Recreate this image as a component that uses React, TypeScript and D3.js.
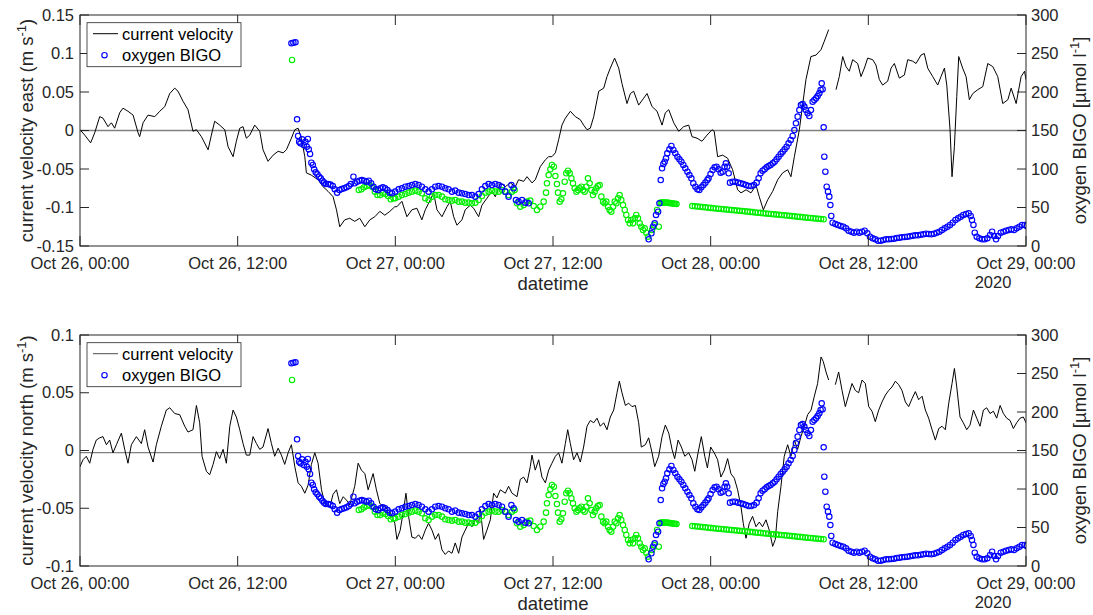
import React from 'react';
import * as d3 from 'd3';

// time is in hours after Oct 26 2020, 00:00 (UTC); NaN marks a gap in the record
const START = Date.UTC(2020, 9, 26);
const toDate = (h: number) => new Date(START + h * 3600e3);

const eastVelocity: [number, number][] = [
  [0, 0.001], [0.36, -0.006], [0.81, -0.016], [1.12, -0.003], [1.5, 0.018], [1.75, 0.016], [2.13, 0.005], [2.39, 0.01],
  [2.64, 0.003], [3.02, 0.023], [3.27, 0.029], [3.65, 0.025], [4.04, 0.02], [4.42, -0.003], [4.54, -0.008], [4.8, 0.01],
  [5.18, 0.02], [5.69, 0.018], [6.07, 0.025], [6.45, 0.031], [6.83, 0.048], [7.21, 0.055], [7.46, 0.051], [7.84, 0.038],
  [8.22, 0.027], [8.6, -0.001], [8.86, 0.001], [9.24, -0.008], [9.75, -0.025], [10.0, -0.006], [10.25, 0.012], [10.63, 0.007],
  [11.02, 0.001], [11.27, -0.021], [11.65, -0.034], [11.9, -0.014], [12.16, 0.003], [12.41, 0.005], [12.66, -0.01], [12.92, -0.006],
  [13.3, 0.007], [13.68, -0.001], [13.93, -0.025], [14.31, -0.04], [14.7, -0.032], [15.08, -0.027], [15.46, -0.029], [15.71, -0.025],
  [16.09, -0.01], [16.35, 0.001], [16.6, 0.003], [16.85, -0.01], [17.11, -0.034], [17.23, -0.055], [17.61, -0.058], [18.12, -0.064],
  [18.5, -0.073], [18.88, -0.079], [19.26, -0.086], [19.52, -0.103], [19.77, -0.125], [20.15, -0.116], [20.53, -0.114], [20.91, -0.118],
  [21.29, -0.114], [21.68, -0.125], [22.06, -0.116], [22.44, -0.112], [22.82, -0.105], [23.2, -0.11], [23.58, -0.105], [23.96, -0.099],
  [24.12, -0.099], [24.5, -0.092], [24.88, -0.112], [25.26, -0.103], [25.64, -0.101], [26.02, -0.116], [26.28, -0.103], [26.66, -0.09],
  [26.91, -0.081], [27.17, -0.103], [27.55, -0.112], [27.93, -0.099], [28.18, -0.092], [28.44, -0.112], [28.69, -0.123], [29.07, -0.116],
  [29.32, -0.103], [29.7, -0.097], [29.96, -0.101], [30.34, -0.112], [30.59, -0.097], [30.97, -0.088], [31.35, -0.079], [31.61, -0.086],
  [31.99, -0.068], [32.37, -0.073], [32.75, -0.068], [33.13, -0.073], [33.38, -0.064], [33.77, -0.066], [34.02, -0.06], [34.4, -0.068],
  [34.65, -0.064], [35.03, -0.047], [35.42, -0.038], [35.67, -0.034], [35.92, -0.034], [36.18, -0.029], [36.43, -0.012], [36.68, 0.007],
  [36.94, 0.016], [37.32, 0.025], [37.7, 0.018], [38.08, 0.014], [38.33, 0.007], [38.59, 0.001], [38.84, 0.003], [39.1, 0.018],
  [39.48, 0.051], [39.86, 0.055], [40.11, 0.07], [40.36, 0.081], [40.69, 0.094], [41.0, 0.081], [41.25, 0.061], [41.63, 0.035],
  [41.89, 0.048], [42.14, 0.051], [42.52, 0.033], [42.9, 0.042], [43.16, 0.048], [43.54, 0.031], [43.92, 0.025], [44.3, 0.007],
  [44.55, 0.023], [44.81, 0.027], [45.19, 0.01], [45.57, -0.001], [45.95, 0.005], [46.33, 0.007], [46.58, -0.008], [46.96, -0.01],
  [47.34, -0.014], [47.72, -0.006], [48.11, 0.001], [48.27, -0.001], [48.53, -0.034], [48.91, -0.032], [49.29, -0.036], [49.67, -0.051],
  [50.05, -0.077], [50.31, -0.081], [50.69, -0.077], [51.07, -0.081], [51.45, -0.071], [51.7, -0.086], [52.01, -0.103], [52.34, -0.09],
  [52.72, -0.079], [53.1, -0.064], [53.48, -0.055], [53.86, -0.051], [54.11, -0.06], [54.37, -0.034], [54.75, 0.001], [55.25, 0.066],
  [55.63, 0.096], [56.02, 0.098], [56.4, 0.105], [56.65, 0.116], [56.98, 0.131], [57.2, NaN], [57.54, 0.053], [57.79, 0.07],
  [58.05, 0.096], [58.3, 0.083], [58.55, 0.077], [58.81, 0.092], [59.19, 0.087], [59.44, 0.07], [59.7, 0.081], [59.95, 0.094],
  [60.33, 0.092], [60.58, 0.085], [60.84, 0.066], [61.09, 0.059], [61.47, 0.064], [61.73, 0.081], [61.98, 0.087], [62.36, 0.068],
  [62.74, 0.072], [63.0, 0.092], [63.38, 0.09], [63.63, 0.087], [64.01, 0.098], [64.26, 0.1], [64.52, 0.081], [64.9, 0.07],
  [65.28, 0.059], [65.53, 0.07], [65.79, 0.081], [65.97, 0.059], [66.22, 0.001], [66.37, -0.06], [66.55, -0.021], [66.73, 0.044],
  [66.88, 0.096], [67.18, 0.081], [67.44, 0.07], [67.69, 0.04], [67.95, 0.048], [68.33, 0.053], [68.71, 0.057], [69.09, 0.087],
  [69.47, 0.083], [69.85, 0.07], [70.23, 0.035], [70.62, 0.04], [70.87, 0.055], [71.25, 0.035], [71.63, 0.07], [71.89, 0.077],
  [72.0, 0.066],
];

const northVelocity: [number, number][] = [
  [0, -0.014], [0.23, -0.008], [0.48, -0.005], [0.74, -0.011], [0.99, 0.001], [1.24, 0.009], [1.5, 0.011], [1.75, 0.012],
  [2.01, 0.005], [2.26, 0.009], [2.51, -0.002], [2.77, 0.005], [3.15, 0.015], [3.4, 0.001], [3.65, -0.011], [3.91, 0.005],
  [4.29, 0.012], [4.67, 0.006], [4.92, 0.018], [5.18, 0.003], [5.56, -0.01], [5.81, 0.005], [6.19, 0.021], [6.57, 0.035],
  [6.83, 0.037], [7.21, 0.032], [7.59, 0.031], [7.97, 0.021], [8.22, 0.016], [8.6, 0.018], [8.86, 0.039], [9.11, 0.024],
  [9.29, -0.005], [9.62, -0.018], [9.87, -0.021], [10.13, -0.012], [10.38, -0.001], [10.63, -0.007], [10.89, 0.001], [11.14, -0.011],
  [11.4, 0.021], [11.65, 0.035], [11.9, 0.029], [12.16, 0.018], [12.41, 0.006], [12.66, -0.004], [12.92, -0.004], [13.17, 0.012],
  [13.43, 0.006], [13.68, 0.001], [13.93, 0.003], [14.31, 0.019], [14.57, 0.006], [14.82, -0.005], [15.08, 0.002], [15.33, -0.004],
  [15.58, -0.012], [15.84, -0.002], [16.09, 0.005], [16.35, -0.014], [16.6, -0.028], [16.85, -0.031], [17.11, -0.037], [17.36, -0.03],
  [17.61, -0.012], [17.87, -0.002], [18.12, -0.011], [18.38, -0.034], [18.63, -0.046], [19.01, -0.049], [19.26, -0.038], [19.52, -0.034],
  [19.77, -0.046], [20.03, -0.04], [20.28, -0.043], [20.53, -0.047], [20.91, -0.031], [21.17, -0.011], [21.42, -0.017], [21.68, -0.02],
  [21.93, -0.034], [22.31, -0.02], [22.56, -0.034], [22.82, -0.046], [23.2, -0.049], [23.58, -0.053], [23.96, -0.063], [24.12, -0.077],
  [24.37, -0.069], [24.63, -0.051], [24.81, -0.037], [25.01, -0.057], [25.26, -0.075], [25.52, -0.076], [25.77, -0.073], [26.02, -0.077],
  [26.28, -0.069], [26.53, -0.063], [26.79, -0.069], [27.04, -0.077], [27.29, -0.072], [27.55, -0.086], [27.8, -0.09], [28.05, -0.087],
  [28.31, -0.089], [28.56, -0.08], [28.82, -0.089], [29.07, -0.075], [29.32, -0.069], [29.58, -0.063], [29.83, -0.066], [30.09, -0.06],
  [30.34, -0.063], [30.47, -0.051], [30.72, -0.077], [30.97, -0.069], [31.23, -0.06], [31.48, -0.037], [31.73, -0.041], [31.99, -0.034],
  [32.37, -0.037], [32.62, -0.031], [32.88, -0.037], [33.26, -0.04], [33.51, -0.025], [33.77, -0.023], [34.02, -0.028], [34.27, -0.014],
  [34.4, -0.004], [34.65, -0.017], [34.91, -0.008], [35.16, -0.023], [35.42, -0.028], [35.67, -0.017], [35.92, -0.011], [36.18, -0.005],
  [36.43, -0.002], [36.68, -0.011], [36.94, 0.006], [37.12, 0.018], [37.32, 0.006], [37.57, -0.008], [37.83, -0.002], [38.08, -0.01],
  [38.33, 0.003], [38.59, 0.021], [38.84, 0.026], [39.1, 0.024], [39.35, 0.028], [39.6, 0.021], [39.86, 0.024], [40.11, 0.018],
  [40.36, 0.029], [40.62, 0.035], [40.87, 0.05], [41.05, 0.06], [41.25, 0.05], [41.51, 0.039], [41.76, 0.041], [42.01, 0.038],
  [42.27, 0.039], [42.52, 0.024], [42.72, 0.003], [43.03, 0.005], [43.28, 0.011], [43.54, -0.002], [43.74, -0.014], [44.04, -0.005],
  [44.3, 0.012], [44.55, 0.022], [44.81, 0.015], [45.06, 0.001], [45.26, -0.007], [45.52, 0.009], [45.77, 0.003], [46.03, -0.005],
  [46.33, -0.002], [46.58, -0.008], [46.79, -0.018], [47.04, -0.002], [47.29, 0.012], [47.55, -0.005], [47.75, -0.015], [48.0, 0.003],
  [48.27, -0.002], [48.53, -0.008], [48.78, -0.023], [49.04, -0.017], [49.29, -0.007], [49.54, -0.02], [49.8, -0.024], [50.05, -0.034],
  [50.31, -0.049], [50.48, -0.063], [50.69, -0.076], [50.94, -0.063], [51.19, -0.057], [51.45, -0.066], [51.7, -0.062], [51.95, -0.066],
  [52.21, -0.06], [52.46, -0.069], [52.72, -0.083], [52.92, -0.077], [53.1, -0.053], [53.35, -0.031], [53.6, -0.005], [53.86, 0.005],
  [54.11, -0.005], [54.37, 0.009], [54.62, 0.001], [54.87, 0.012], [55.13, 0.021], [55.38, 0.031], [55.64, 0.035], [55.89, 0.047],
  [56.14, 0.058], [56.4, 0.081], [56.57, 0.077], [56.78, 0.068], [56.98, 0.061], [57.2, NaN], [57.49, 0.057], [57.74, 0.068],
  [58.0, 0.052], [58.25, 0.038], [58.5, 0.048], [58.76, 0.058], [59.01, 0.052], [59.26, 0.05], [59.52, 0.061], [59.77, 0.058],
  [60.03, 0.038], [60.28, 0.034], [60.53, 0.025], [60.79, 0.035], [61.04, 0.042], [61.3, 0.048], [61.55, 0.052], [61.8, 0.055],
  [62.06, 0.06], [62.31, 0.057], [62.56, 0.052], [62.82, 0.042], [63.07, 0.038], [63.33, 0.045], [63.58, 0.051], [63.83, 0.044],
  [64.09, 0.047], [64.34, 0.035], [64.59, 0.028], [64.85, 0.018], [65.1, 0.009], [65.36, 0.019], [65.61, 0.021], [65.86, 0.018],
  [66.12, 0.041], [66.37, 0.058], [66.55, 0.071], [66.73, 0.055], [66.98, 0.029], [67.23, 0.024], [67.49, 0.018], [67.74, 0.022],
  [68.0, 0.035], [68.25, 0.028], [68.5, 0.021], [68.76, 0.035], [69.01, 0.037], [69.26, 0.032], [69.52, 0.034], [69.77, 0.028],
  [70.03, 0.039], [70.28, 0.032], [70.53, 0.028], [70.79, 0.026], [71.04, 0.019], [71.29, 0.024], [71.55, 0.028], [71.8, 0.029],
  [72.0, 0.024],
];

// oxygen BIGO, µmol l-1 (blue circles)
const oxygenBigo: [number, number][] = [
  [16.09, 263.2], [16.24, 264.0], [16.4, 264.5], [16.52, 164.5], [16.6, 142.9], [16.68, 135.5], [16.78, 133.3], [16.9, 138.5],
  [17.03, 131.2], [17.16, 135.5], [17.26, 129.0], [17.34, 139.0], [17.41, 125.5], [17.51, 119.5], [17.61, 108.2], [17.72, 105.2],
  [17.82, 99.6], [17.94, 95.7], [18.07, 93.1], [18.2, 90.0], [18.32, 87.9], [18.45, 84.8], [18.58, 82.3], [18.71, 80.5],
  [18.88, 80.5], [19.06, 79.7], [19.24, 77.9], [19.39, 73.6], [19.57, 69.3], [19.75, 72.7], [19.92, 74.0], [20.1, 74.9],
  [20.28, 76.2], [20.46, 77.9], [20.61, 80.5], [20.81, 90.0], [20.91, 81.4], [21.09, 83.5], [21.27, 84.8], [21.45, 85.7],
  [21.62, 84.8], [21.8, 83.5], [21.98, 84.8], [22.16, 81.4], [22.34, 77.0], [22.51, 73.6], [22.69, 72.7], [22.87, 74.9],
  [23.05, 76.2], [23.22, 74.9], [23.4, 72.7], [23.58, 69.3], [23.76, 68.4], [23.99, 70.6], [24.25, 73.6], [24.5, 74.9],
  [24.76, 77.0], [25.01, 77.9], [25.26, 79.2], [25.52, 80.5], [25.77, 79.2], [26.02, 77.0], [26.28, 73.6], [26.53, 70.6],
  [26.79, 73.6], [27.04, 77.0], [27.29, 77.9], [27.55, 77.0], [27.8, 74.9], [28.05, 73.6], [28.31, 70.6], [28.56, 71.9],
  [28.82, 69.3], [29.07, 68.4], [29.32, 67.5], [29.58, 66.2], [29.83, 66.2], [30.09, 64.1], [30.34, 67.5], [30.59, 73.6],
  [30.85, 77.9], [31.1, 80.5], [31.35, 79.2], [31.61, 80.5], [31.86, 79.2], [32.12, 77.0], [32.37, 70.6], [32.62, 64.1],
  [32.83, 79.2], [33.0, 74.9], [33.18, 59.7], [33.38, 57.6], [33.64, 59.7], [33.89, 56.3], [34.15, 55.4],
  [43.28, 8.7], [43.49, 16.5], [43.61, 25.1], [43.74, 29.4], [43.84, 40.3], [44.0, 44.6], [44.1, 55.4], [44.2, 85.7],
  [44.3, 100.9], [44.4, 106.5], [44.5, 109.5], [44.6, 113.9], [44.7, 120.3], [44.86, 125.5], [45.01, 129.9], [45.16, 124.7],
  [45.31, 120.3], [45.47, 116.0], [45.62, 112.6], [45.77, 109.5], [45.92, 105.2], [46.07, 100.9], [46.23, 96.5], [46.38, 92.2],
  [46.53, 87.9], [46.68, 81.4], [46.84, 77.0], [46.99, 73.6], [47.14, 72.7], [47.29, 76.2], [47.45, 79.2], [47.6, 82.3],
  [47.75, 85.7], [47.84, 87.9], [47.99, 93.5], [48.15, 98.7], [48.3, 102.2], [48.45, 103.0], [48.6, 99.6], [48.76, 95.2],
  [48.91, 96.5], [49.06, 103.0], [49.16, 107.4], [49.26, 103.0], [49.37, 94.4], [49.47, 82.3], [49.67, 83.5], [49.87, 83.5],
  [50.08, 82.3], [50.28, 81.4], [50.48, 80.5], [50.69, 79.2], [50.89, 77.9], [51.09, 77.9], [51.3, 79.2], [51.5, 82.3],
  [51.65, 87.9], [51.8, 94.4], [51.95, 97.8], [52.11, 99.6], [52.26, 102.2], [52.41, 103.9], [52.56, 105.2], [52.72, 107.4],
  [52.87, 109.5], [53.02, 112.6], [53.17, 116.0], [53.33, 119.5], [53.48, 122.5], [53.63, 125.5], [53.78, 129.0], [53.93, 133.3],
  [54.09, 137.7], [54.24, 142.9], [54.37, 150.6], [54.49, 159.3], [54.62, 168.0], [54.75, 176.6], [54.87, 183.1], [55.0, 184.4],
  [55.13, 181.0], [55.25, 176.6], [55.38, 172.3], [55.51, 168.8], [55.63, 176.6], [55.76, 187.4], [55.89, 189.6], [56.02, 191.8],
  [56.14, 194.8], [56.27, 198.3], [56.37, 202.6], [56.45, 211.3], [56.52, 203.5], [56.6, 154.1], [56.65, 116.0], [56.73, 96.5],
  [56.83, 77.0], [56.93, 70.6], [57.03, 64.1], [57.11, 53.2], [57.18, 39.0], [57.28, 30.3], [57.49, 28.6], [57.69, 27.3],
  [57.89, 26.0], [58.1, 25.1], [58.3, 22.9], [58.5, 19.9], [58.71, 18.6], [58.91, 17.3], [59.11, 18.6], [59.32, 17.3],
  [59.52, 18.6], [59.72, 19.9], [59.92, 16.5], [60.13, 12.1], [60.33, 10.0], [60.53, 8.7], [60.74, 6.9], [60.94, 6.9],
  [61.14, 7.8], [61.35, 8.7], [61.55, 8.7], [61.75, 9.1], [61.96, 9.5], [62.16, 10.4], [62.36, 10.8], [62.56, 11.3],
  [62.77, 11.7], [62.97, 12.1], [63.17, 12.6], [63.38, 13.4], [63.58, 13.9], [63.78, 13.9], [63.99, 14.7], [64.19, 15.2],
  [64.39, 16.0], [64.6, 15.6], [64.8, 15.2], [65.0, 16.0], [65.2, 17.3], [65.41, 18.6], [65.61, 20.8], [65.81, 22.9],
  [66.02, 25.1], [66.22, 27.3], [66.42, 30.3], [66.63, 33.8], [66.83, 35.9], [67.03, 38.1], [67.23, 40.3], [67.44, 41.6],
  [67.64, 42.4], [67.79, 39.0], [67.89, 33.8], [68.0, 27.3], [68.1, 17.3], [68.25, 12.1], [68.45, 10.0], [68.66, 8.7],
  [68.86, 8.7], [69.06, 10.0], [69.27, 14.3], [69.42, 18.6], [69.57, 13.0], [69.72, 8.7], [69.87, 13.0], [70.08, 17.3],
  [70.28, 18.6], [70.48, 19.9], [70.69, 20.8], [70.89, 21.6], [71.09, 20.8], [71.29, 22.9], [71.5, 25.1], [71.7, 27.3],
  [71.9, 27.3], [72.05, 26.0],
];

// second oxygen record (green circles, no legend entry)
const oxygenGreen: [number, number][] = [
  [16.14, 241.6], [21.22, 72.7], [21.42, 73.6], [21.62, 76.2], [21.83, 77.9], [22.03, 79.2], [22.23, 77.0], [22.44, 70.6],
  [22.64, 66.2], [22.84, 66.2], [23.05, 69.3], [23.25, 67.5], [23.45, 64.9], [23.65, 60.6], [23.86, 61.9], [23.99, 61.9],
  [24.25, 64.1], [24.5, 66.2], [24.76, 67.5], [25.01, 69.3], [25.26, 70.6], [25.52, 71.9], [25.77, 70.6], [26.02, 68.4],
  [26.28, 61.9], [26.53, 59.7], [26.79, 64.1], [27.04, 66.2], [27.29, 66.2], [27.55, 64.1], [27.8, 60.6], [28.05, 59.7],
  [28.31, 58.9], [28.56, 59.7], [28.82, 57.6], [29.07, 57.6], [29.32, 56.3], [29.58, 56.3], [29.83, 55.4], [30.09, 56.3],
  [30.34, 59.7], [30.59, 64.9], [30.85, 69.3], [31.1, 70.6], [31.35, 71.9], [31.61, 70.6], [31.86, 70.6], [32.12, 72.7],
  [32.37, 70.6], [32.62, 66.2], [32.88, 70.6], [33.08, 72.7], [33.26, 55.4], [33.51, 51.1], [33.77, 53.2], [34.02, 57.6],
  [34.27, 58.9], [34.53, 51.9], [34.78, 46.8], [35.03, 51.1], [35.29, 57.6], [35.47, 69.3], [35.54, 81.4], [35.67, 92.2],
  [35.8, 99.6], [35.92, 105.2], [36.07, 103.0], [36.18, 90.9], [36.3, 80.5], [36.38, 69.3], [36.51, 57.6], [36.63, 60.6],
  [36.76, 68.4], [36.89, 83.5], [37.01, 94.4], [37.14, 97.8], [37.27, 94.4], [37.4, 87.9], [37.52, 81.4], [37.65, 74.9],
  [37.78, 70.6], [37.9, 72.7], [38.03, 74.9], [38.16, 77.0], [38.28, 72.7], [38.41, 70.6], [38.54, 77.0], [38.66, 87.9],
  [38.79, 81.4], [38.92, 72.7], [39.04, 66.2], [39.17, 70.6], [39.3, 74.9], [39.42, 77.9], [39.55, 79.2], [39.68, 64.1],
  [39.81, 57.6], [39.93, 55.4], [40.06, 57.6], [40.19, 51.1], [40.31, 46.8], [40.44, 44.6], [40.57, 51.1], [40.7, 57.6],
  [40.82, 55.4], [40.95, 61.9], [41.07, 66.2], [41.2, 59.7], [41.33, 53.2], [41.46, 46.8], [41.58, 40.3], [41.71, 33.8],
  [41.84, 29.4], [41.96, 33.8], [42.09, 29.4], [42.22, 35.9], [42.34, 40.3], [42.47, 35.9], [42.6, 29.4], [42.72, 25.1],
  [42.85, 20.8], [42.98, 22.9], [43.1, 17.3], [43.23, 12.1], [43.54, 20.8], [43.69, 27.3], [43.92, 46.8], [44.05, 25.1],
  [44.2, 56.3], [44.3, 56.3], [44.4, 56.3], [44.5, 56.3], [44.6, 56.3], [44.7, 56.2], [44.8, 56.0], [44.9, 55.8],
  [45.0, 55.5], [45.1, 55.3], [45.2, 55.0], [45.3, 54.8], [45.4, 54.5],
  [46.6, 51.9], [46.8, 51.6], [47.0, 51.2], [47.2, 50.9], [47.4, 50.5], [47.6, 50.2], [47.8, 49.8], [48.0, 49.5],
  [48.2, 49.1], [48.4, 48.8], [48.6, 48.5], [48.8, 48.1], [49.0, 47.8], [49.2, 47.4], [49.4, 47.1], [49.6, 46.7],
  [49.8, 46.4], [50.0, 46.1], [50.2, 45.7], [50.4, 45.4], [50.6, 45.0], [50.8, 44.7], [51.0, 44.3], [51.2, 44.0],
  [51.4, 43.6], [51.6, 43.3], [51.8, 43.0], [52.0, 42.6], [52.2, 42.3], [52.4, 41.9], [52.6, 41.6], [52.8, 41.2],
  [53.0, 40.9], [53.2, 40.5], [53.4, 40.2], [53.6, 39.9], [53.8, 39.5], [54.0, 39.2], [54.2, 38.8], [54.4, 38.5],
  [54.6, 38.1], [54.8, 37.8], [55.0, 37.4], [55.2, 37.1], [55.4, 36.8], [55.6, 36.4], [55.8, 36.1], [56.0, 35.7],
  [56.2, 35.4], [56.4, 35.0], [56.6, 34.7],
];

const eastTicks = [-0.15, -0.1, -0.05, 0, 0.05, 0.1, 0.15];
const northTicks = [-0.1, -0.05, 0, 0.05, 0.1];
const oxygenTicks = [0, 50, 100, 150, 200, 250, 300];
const legendLabels = ['current velocity', 'oxygen BIGO'];

const W = 1093, HT = 615;
const X0 = 80, X1 = 1026, PH = 231;
const AXIS = '#262626';
const FONT = '"Liberation Sans", Arial, Helvetica, sans-serif';
const TICK_FS = 16.5, LABEL_FS = 18.5;
const MARK_R = 2.7, MARK_W = 1.15;

const x = d3.scaleUtc().domain([toDate(0), toDate(72)]).range([X0, X1]);
const xTicks = x.ticks(d3.utcHour.every(12)!);
const fmtTick = d3.utcFormat('%b %d, %H:%M');

type PanelProps = {
  id: string;
  top: number;
  vDomain: [number, number];
  vTicks: number[];
  velocity: [number, number][];
  refValue: number;
  direction: string;
  legendLine: string;
};

const Panel = ({ id, top, vDomain, vTicks, velocity, refValue, direction, legendLine }: PanelProps) => {
  const bottom = top + PH;
  const yV = d3.scaleLinear().domain(vDomain).range([bottom, top]);
  const yO = d3.scaleLinear().domain([0, 300]).range([bottom, top]);
  const line = d3.line<[number, number]>()
    .defined(d => !Number.isNaN(d[1]))
    .x(d => x(toDate(d[0])))
    .y(d => yV(d[1]));
  const midY = (top + bottom) / 2;
  const lx = 87, ly = top + 7.7;

  return (
    <g>
      <defs>
        <clipPath id={`clip-${id}`}>
          <rect x={X0} y={top} width={X1 - X0} height={PH} />
        </clipPath>
      </defs>
      <rect x={X0} y={top} width={X1 - X0} height={PH} fill="#fff" />
      <g clipPath={`url(#clip-${id})`}>
        <line x1={X0} x2={X1} y1={yV(refValue)} y2={yV(refValue)} stroke="#808080" strokeWidth={1.4} />
        <path d={line(velocity) || ''} fill="none" stroke="#000" strokeWidth={1} strokeLinejoin="round" />
        {oxygenGreen.map((d, i) => (
          <circle key={`g${i}`} cx={x(toDate(d[0]))} cy={yO(d[1])} r={MARK_R} fill="none" stroke="#00ee00" strokeWidth={MARK_W} />
        ))}
        {oxygenBigo.map((d, i) => (
          <circle key={`b${i}`} cx={x(toDate(d[0]))} cy={yO(d[1])} r={MARK_R} fill="none" stroke="#0000ff" strokeWidth={MARK_W} />
        ))}
      </g>

      <rect x={X0} y={top} width={X1 - X0} height={PH} fill="none" stroke={AXIS} strokeWidth={1} />

      {xTicks.map((t, i) => {
        const px = x(t);
        return (
          <g key={`xt${i}`}>
            <line x1={px} x2={px} y1={bottom} y2={bottom - 10} stroke={AXIS} />
            <line x1={px} x2={px} y1={top} y2={top + 10} stroke={AXIS} />
            <text x={px} y={bottom + 23} textAnchor="middle" fontSize={TICK_FS} fill={AXIS}>{fmtTick(t)}</text>
          </g>
        );
      })}
      <text x={993} y={bottom + 42} textAnchor="middle" fontSize={TICK_FS} fill={AXIS}>2020</text>
      <text x={(X0 + X1) / 2} y={bottom + 44} textAnchor="middle" fontSize={LABEL_FS} fill={AXIS}>datetime</text>

      {vTicks.map((v, i) => (
        <g key={`vt${i}`}>
          <line x1={X0} x2={X0 + 9} y1={yV(v)} y2={yV(v)} stroke={AXIS} />
          <text x={74} y={yV(v) + 5.5} textAnchor="end" fontSize={TICK_FS} fill={AXIS}>{String(v)}</text>
        </g>
      ))}
      {oxygenTicks.map((o, i) => (
        <g key={`ot${i}`}>
          <line x1={X1} x2={X1 - 9} y1={yO(o)} y2={yO(o)} stroke={AXIS} />
          <text x={1031} y={yO(o) + 5.5} textAnchor="start" fontSize={TICK_FS} fill={AXIS}>{String(o)}</text>
        </g>
      ))}

      <text transform={`translate(33,${midY}) rotate(-90)`} textAnchor="middle" fontSize={LABEL_FS} fill={AXIS}>
        {`current velocity ${direction} (m s`}
        <tspan dy={-7} fontSize={LABEL_FS * 0.7}>-1</tspan>
        <tspan dy={7}>)</tspan>
      </text>
      <text transform={`translate(1086,${midY}) rotate(-90)`} textAnchor="middle" fontSize={LABEL_FS} fill={AXIS}>
        {'oxygen BIGO [µmol l'}
        <tspan dy={-7} fontSize={LABEL_FS * 0.7}>-1</tspan>
        <tspan dy={7}>]</tspan>
      </text>

      <g>
        <rect x={lx} y={ly} width={154} height={44} fill="#fff" stroke={AXIS} strokeWidth={0.8} />
        <line x1={lx + 6} x2={lx + 31} y1={ly + 11} y2={ly + 11} stroke={legendLine} strokeWidth={1} />
        <text x={lx + 35} y={ly + 17} fontSize={TICK_FS} fill="#000">{legendLabels[0]}</text>
        <circle cx={lx + 17.5} cy={ly + 32.5} r={MARK_R} fill="none" stroke="#0000ff" strokeWidth={MARK_W} />
        <text x={lx + 35} y={ly + 38.5} fontSize={TICK_FS} fill="#000">{legendLabels[1]}</text>
      </g>
    </g>
  );
};

export default function App() {
  return (
    <div style={{ position: 'fixed', left: 0, top: 0, width: W, height: HT, background: '#fff' }}>
      <svg width={W} height={HT} viewBox={`0 0 ${W} ${HT}`} style={{ display: 'block', fontFamily: FONT }}>
        <rect width={W} height={HT} fill="#fff" />
        <Panel id="east" top={15} vDomain={[-0.15, 0.15]} vTicks={eastTicks} velocity={eastVelocity}
          refValue={0} direction="east" legendLine="#000" />
        <Panel id="north" top={335} vDomain={[-0.1, 0.1]} vTicks={northTicks} velocity={northVelocity}
          refValue={-0.0018} direction="north" legendLine="#4d4d4d" />
      </svg>
    </div>
  );
}
